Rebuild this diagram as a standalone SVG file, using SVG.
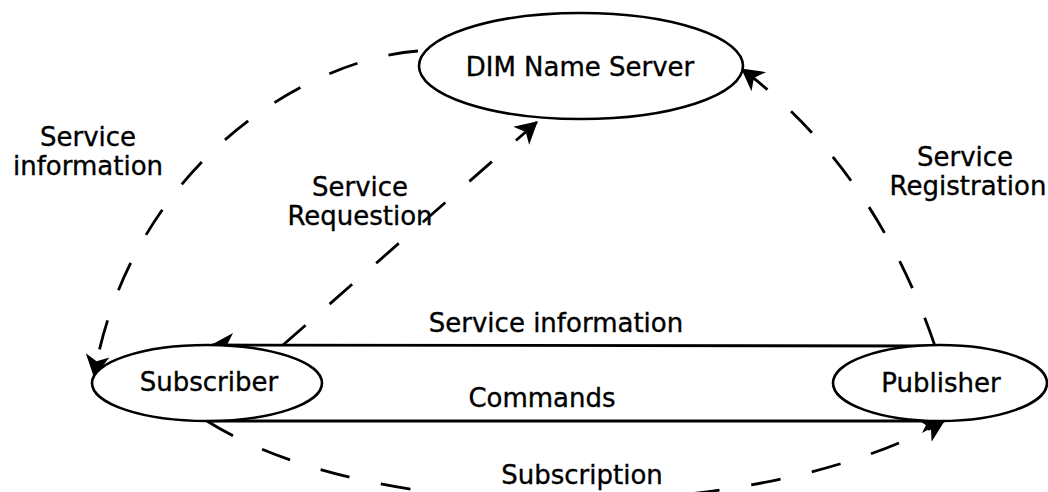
<svg xmlns="http://www.w3.org/2000/svg" width="1048" height="492" viewBox="0 0 1048 492">
<style>
  .node { fill: #fff; stroke: #000; stroke-width: 2.6; }
  .lbl { font-family: "DejaVu Sans", Verdana, sans-serif; font-size: 26px; fill: #000; stroke: #000; stroke-width: 0.35; text-anchor: middle; }
  .dash { fill: none; stroke: #000; stroke-width: 2.8; stroke-dasharray: 30 32; }
  .solid { fill: none; stroke: #000; stroke-width: 2.8; }
</style>
<defs>
  <marker id="arr" markerUnits="userSpaceOnUse" viewBox="-24 -14 28 28" refX="0" refY="0" markerWidth="28" markerHeight="28" orient="auto" overflow="visible">
    <path d="M1,0 L-21,-12 L-15,0 L-21,12 Z" fill="#000" stroke="none"/>
  </marker>
</defs>
<rect width="1048" height="492" fill="#fff"/>
<g id="connectors">
  <path class="dash" d="M418,51 C300,60 130,170 94,376" marker-end="url(#arr)"/>
  <path class="dash" d="M283,345 L537,122" marker-end="url(#arr)"/>
  <path class="dash" d="M935,346 Q875,170 742,69" marker-end="url(#arr)"/>
  <path class="dash" d="M207,421 C380,530 760,525 944,421" marker-end="url(#arr)"/>
  <path class="solid" d="M930,346 L212,345" marker-end="url(#arr)"/>
  <path class="solid" d="M207,421 L943,421" marker-end="url(#arr)"/>
</g>
<g id="dim-name-server">
  <ellipse class="node" cx="581" cy="66" rx="162" ry="53"/>
  <text class="lbl" x="580" y="76">DIM Name Server</text>
</g>
<g id="subscriber">
  <ellipse class="node" cx="207" cy="383" rx="115" ry="38" fill="none"/>
  <text class="lbl" x="209" y="391">Subscriber</text>
</g>
<g id="publisher">
  <ellipse class="node" cx="940" cy="383" rx="107" ry="38"/>
  <text class="lbl" x="941" y="392">Publisher</text>
</g>
<g id="labels">
  <text class="lbl" x="88" y="146">Service</text>
  <text class="lbl" x="88" y="175">information</text>
  <text class="lbl" x="360" y="196">Service</text>
  <text class="lbl" x="360" y="225">Requestion</text>
  <text class="lbl" x="965" y="166">Service</text>
  <text class="lbl" x="968" y="195">Registration</text>
  <text class="lbl" x="556" y="332">Service information</text>
  <text class="lbl" x="542" y="407">Commands</text>
  <text class="lbl" x="582" y="484">Subscription</text>
</g>
</svg>
